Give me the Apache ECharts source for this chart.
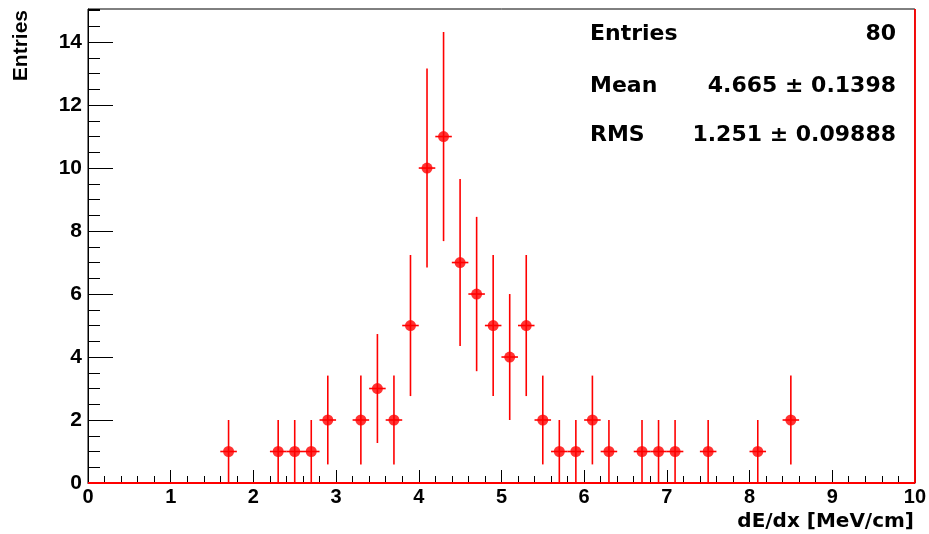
<!DOCTYPE html>
<html>
<head>
<meta charset="utf-8">
<title>dE/dx</title>
<script src="https://cdn.jsdelivr.net/npm/echarts@6/dist/echarts.min.js"></script>
<style>
  html, body { margin: 0; padding: 0; background: #ffffff; }
  #chart { width: 929px; height: 534px; }
</style>
</head>
<body>
<div id="chart"></div>
<script>
// Histogram of dE/dx, 50 bins of 0.2 MeV/cm between 0 and 10
const binWidth = 0.2;
const binCenters = [1.7, 2.3, 2.5, 2.7, 2.9, 3.3, 3.5, 3.7, 3.9, 4.1, 4.3, 4.5, 4.7, 4.9,
                    5.1, 5.3, 5.5, 5.7, 5.9, 6.1, 6.3, 6.7, 6.9, 7.1, 7.5, 8.1, 8.5];
const counts = [1, 1, 1, 1, 2, 2, 3, 2, 5, 10, 11, 7, 6, 5,
                4, 5, 2, 1, 1, 2, 1, 1, 1, 1, 1, 1, 2];
const errors = [1.0, 1.0, 1.0, 1.0, 1.41, 1.41, 1.73, 1.41, 2.24, 3.16, 3.32, 2.65, 2.45, 2.24,
                2.0, 2.24, 1.41, 1.0, 1.0, 1.41, 1.0, 1.0, 1.0, 1.0, 1.0, 1.0, 1.41];

const xTicks = [0, 1, 2, 3, 4, 5, 6, 7, 8, 9, 10];
const yTicks = [0, 2, 4, 6, 8, 10, 12, 14];
const yMax = 15.05;

const statNames = ['Entries', 'Mean', 'RMS'];
const statValues = ['80', '4.665 \u00b1 0.1398', '1.251 \u00b1 0.09888'];

const RED = '#ff0000';
const helv = 'Liberation Sans';
const wide = 'DejaVu Sans';

const points = binCenters.map((x, i) => [x, counts[i], errors[i]]);

// vertical error bar plus a horizontal bar spanning the bin
function renderErrorBar(params, api) {
  const x = api.value(0), y = api.value(1), e = api.value(2);
  const top = api.coord([x, y + e]);
  const bottom = api.coord([x, Math.max(0, y - e)]);
  const left = api.coord([x - binWidth / 2, y]);
  const right = api.coord([x + binWidth / 2, y]);
  const style = { stroke: RED, lineWidth: 1.6 };
  return {
    type: 'group',
    children: [
      { type: 'line', shape: { x1: top[0], y1: top[1], x2: bottom[0], y2: bottom[1] }, style: style },
      { type: 'line', shape: { x1: left[0], y1: left[1], x2: right[0], y2: right[1] }, style: style }
    ]
  };
}

const chart = echarts.init(document.getElementById('chart'), null, { renderer: 'canvas' });

function label(text, x, y, size, family, align, rotation) {
  return {
    type: 'text', x: x, y: y, rotation: rotation || 0,
    style: {
      text: text, fontSize: size, fontWeight: 'bold', fontFamily: family,
      fill: '#000', align: align, verticalAlign: 'middle'
    }
  };
}

const graphics = [
  label('Entries', 21, 10, 21, helv, 'right', Math.PI / 2),
  label('dE/dx [MeV/cm]', 914, 522, 20, wide, 'right')
];
const statRows = [34, 86, 135];
statNames.forEach((name, i) => {
  graphics.push(label(name, 590, statRows[i], 22, wide, 'left'));
  graphics.push(label(statValues[i], 896, statRows[i], 22, wide, 'right'));
});

chart.setOption({
  animation: false,
  backgroundColor: '#ffffff',
  grid: {
    left: 88, right: 12, top: 9, bottom: 51,
    show: true, borderColor: '#000', borderWidth: 1, backgroundColor: 'transparent'
  },
  xAxis: {
    type: 'value', min: xTicks[0], max: xTicks[xTicks.length - 1], interval: 1,
    axisLine: { show: true, lineStyle: { color: '#000', width: 1 } },
    axisTick: { show: true, inside: true, length: 13, lineStyle: { color: '#000', width: 1 } },
    minorTick: { show: true, splitNumber: 5, length: 7, lineStyle: { color: '#000', width: 1 } },
    splitLine: { show: false },
    axisLabel: {
      margin: 4, color: '#000', fontWeight: 'bold', fontSize: 20, fontFamily: helv,
      formatter: v => (xTicks.indexOf(v) >= 0 ? String(v) : '')
    }
  },
  yAxis: [
    {
      type: 'value', min: 0, max: yMax, interval: 2, position: 'left', offset: 0,
      axisLine: { show: true, lineStyle: { color: '#000', width: 1 } },
      axisTick: { show: true, inside: true, length: 25, lineStyle: { color: '#000', width: 1 } },
      splitLine: { show: false },
      axisLabel: {
        margin: 6, color: '#000', fontWeight: 'bold', fontSize: 21, fontFamily: helv,
        formatter: v => (yTicks.indexOf(v) >= 0 ? String(v) : ''),
        showMaxLabel: false
      }
    },
    {
      type: 'value', min: 0, max: yMax, interval: 0.5, position: 'left', offset: 0,
      axisLine: { show: false },
      axisTick: { show: true, inside: true, length: 12, lineStyle: { color: '#000', width: 1 } },
      splitLine: { show: false },
      axisLabel: { show: false }
    }
  ],
  series: [
    {
      type: 'custom',
      xAxisIndex: 0, yAxisIndex: 0,
      data: points,
      renderItem: renderErrorBar,
      z: 3,
      silent: true,
      markLine: {
        silent: true, symbol: 'none', label: { show: false },
        lineStyle: { color: RED, width: 1.8, type: 'solid' },
        data: [{ yAxis: 0 }, { xAxis: xTicks[xTicks.length - 1] }]
      }
    },
    {
      type: 'scatter',
      xAxisIndex: 0, yAxisIndex: 0,
      data: points,
      symbol: 'circle', symbolSize: 11,
      itemStyle: { color: RED },
      z: 4,
      silent: true
    }
  ],
  graphic: graphics
});
</script>
</body>
</html>
